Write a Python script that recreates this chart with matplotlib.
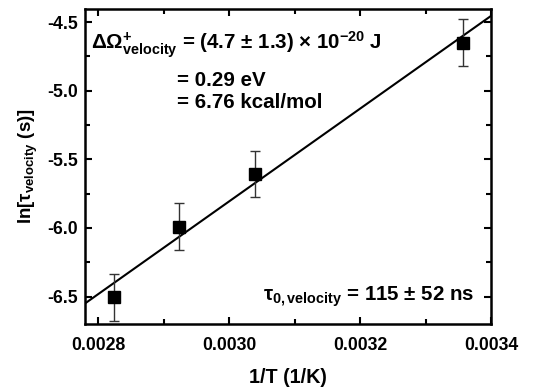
import numpy as np
import matplotlib
matplotlib.use("Agg")
import matplotlib.pyplot as plt
from matplotlib.ticker import MultipleLocator, FormatStrFormatter

plt.rcParams['font.family'] = ['Liberation Sans', 'DejaVu Sans']
plt.rcParams['font.weight'] = 'bold'
plt.rcParams['mathtext.fontset'] = 'custom'
plt.rcParams['mathtext.rm'] = 'Liberation Sans:bold'
plt.rcParams['mathtext.it'] = 'Liberation Sans:bold'
plt.rcParams['mathtext.bf'] = 'Liberation Sans:bold'
plt.rcParams['mathtext.sf'] = 'Liberation Sans:bold'

# data
inv_T = [0.0028245, 0.002924, 0.003039, 0.003357]
ln_tau = [-6.505, -5.99, -5.607, -4.65]
ln_tau_err = [0.17, 0.17, 0.17, 0.17]

# linear fit parameters (ln tau = a + b / T)
fit_slope = 3379.0
fit_intercept = -15.944
fit_x = [0.00278, 0.0034]

fig = plt.figure(figsize=(5.48, 3.89), dpi=100)
ax = fig.add_axes([85 / 548, 1 - 324 / 389, 406 / 548, 315 / 389])

xs = np.array(fit_x)
ax.plot(xs, fit_intercept + fit_slope * xs, color='black', lw=1.5, zorder=2)
ax.errorbar(inv_T, ln_tau, yerr=ln_tau_err, fmt='s', color='black',
            markersize=8.5, ecolor='#333333', elinewidth=1, capsize=3.5,
            capthick=1, zorder=3)

ax.set_xlim(0.00278, 0.0034)
ax.set_ylim(-6.7, -4.405)
ax.xaxis.set_major_locator(MultipleLocator(0.0002))
ax.xaxis.set_minor_locator(MultipleLocator(0.0001))
ax.yaxis.set_major_locator(MultipleLocator(0.5))
ax.yaxis.set_minor_locator(MultipleLocator(0.25))
ax.xaxis.set_major_formatter(FormatStrFormatter('%.4f'))
ax.yaxis.set_major_formatter(FormatStrFormatter('%.1f'))

ax.tick_params(which='both', direction='in', top=True, right=True, width=1.5)
ax.tick_params(which='major', length=5, labelsize=12.7)
ax.tick_params(axis='x', which='major', pad=9)
ax.tick_params(axis='y', which='major', pad=5)
ax.tick_params(which='minor', length=3.5)
for s in ax.spines.values():
    s.set_linewidth(1.8)

ax.set_xlabel('1/T (1/K)', fontsize=14.2, fontweight='bold', labelpad=10.5)
ax.set_ylabel(r'ln[$\tau_{velocity}$ (s)]', fontsize=13.5, fontweight='bold', labelpad=5)

ann = 14.8
ax.text(91, 389 - 45, r'$\Delta\Omega^{+}_{velocity}$ = (4.7 ± 1.3) × 10$^{-20}$ J',
        transform=None, fontsize=ann, fontweight='bold', va='center', ha='left')
ax.text(177, 389 - 80, '= 0.29 eV', transform=None, fontsize=ann,
        fontweight='bold', va='center', ha='left')
ax.text(177, 389 - 102, '= 6.76 kcal/mol', transform=None, fontsize=ann,
        fontweight='bold', va='center', ha='left')
ax.text(263, 389 - 297, r'$\tau_{0,velocity}$ = 115 ± 52 ns', transform=None,
        fontsize=ann, fontweight='bold', va='center', ha='left')

fig.savefig('out.png', dpi=100)
